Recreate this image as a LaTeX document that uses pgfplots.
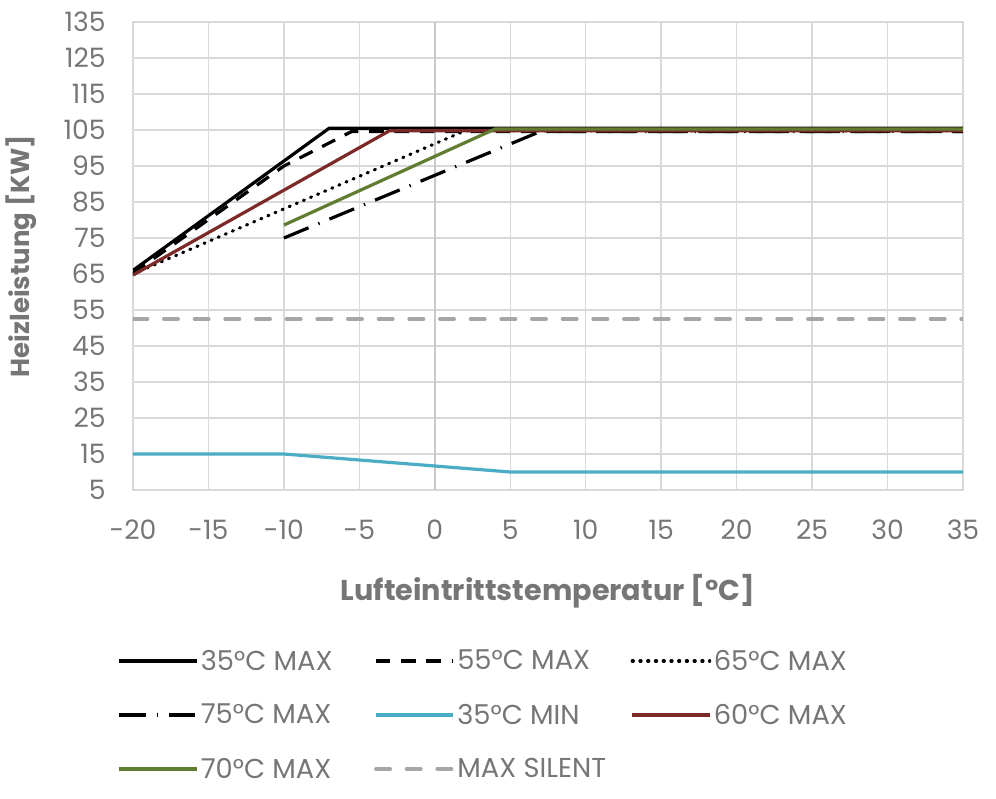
\documentclass[border=0pt]{standalone}
\usepackage{pgfplots}
\pgfplotsset{compat=1.18}
\usepackage{fontspec}
\setmainfont{Poppins}
\definecolor{txt}{RGB}{118,118,118}
\definecolor{gridc}{RGB}{217,217,217}
\definecolor{zeroc}{RGB}{200,200,200}
\definecolor{blu}{RGB}{75,172,198}
\definecolor{redd}{RGB}{124,42,40}
\definecolor{grn}{RGB}{96,125,49}
\definecolor{silent}{RGB}{166,166,166}
\begin{document}
\begin{tikzpicture}
\begin{axis}[
  scale only axis, width=622.5pt, height=351pt,
  xmin=-20, xmax=35, ymin=5, ymax=135,
  xtick={-20,-15,...,35}, ytick={5,15,...,135},
  xticklabels={-20,-15,-10,-5,0,5,10,15,20,25,30,35},
  grid=major, grid style={gridc, line width=1.1pt},
  axis line style={gridc, line width=1.1pt},
  major tick length=0pt,
  tick label style={font=\fontsize{20}{23}\selectfont, text=txt},
  /pgf/number format/assume math mode=true,
  xticklabel style={yshift=-19pt},
  yticklabel style={xshift=-17pt},
  extra x ticks={0}, extra x tick labels={},
  extra x tick style={grid style={zeroc, line width=1.4pt}},
  xlabel={\bfseries Lufteintrittstemperatur [°C]},
  ylabel={\bfseries Heizleistung [KW]},
  xlabel style={font=\fontsize{21.5}{24}\selectfont, text=txt, yshift=-19pt},
  ylabel style={font=\fontsize{19.5}{22}\selectfont, text=txt, yshift=13pt},
  legend columns=3,
  legend style={at={(-0.0237,-0.3015)}, anchor=north west, draw=none, fill=none,
    font=\fontsize{20.5}{23}\selectfont, text=txt,
    nodes={inner xsep=2pt, inner ysep=0pt, minimum height=40.5pt},
    row sep=0pt, column sep=0pt},
  legend cell align=left,
  legend image code/.code={\draw[#1] (0pt,0pt) -- (58pt,0pt);},
  every axis plot/.append style={line width=2.4pt, line join=round},
]
\addplot[black] coordinates {(-20,66) (-7,105.5) (35,105.5)};
\addlegendentry{\makebox[128pt][l]{35°C MAX}}
\addplot[black, dash pattern=on 11pt off 8pt] coordinates {(-20,65.2) (-10,95) (-5.5,104.6) (35,104.6)};
\addlegendentry{\makebox[128pt][l]{55°C MAX}}
\addplot[black, line width=2.4pt, line cap=round, dash pattern=on 0.8pt off 5pt] coordinates {(-20,65) (2,104.8) (35,104.8)};
\addlegendentry{\makebox[128pt][l]{65°C MAX}}
\addplot[black, dash pattern=on 20pt off 8pt on 1pt off 8pt] coordinates {(-10,75) (7,104.6) (35,104.6)};
\addlegendentry{\makebox[128pt][l]{75°C MAX}}
\addplot[blu] coordinates {(-20,15) (-10,15) (5,10) (35,10)};
\addlegendentry{\makebox[128pt][l]{35°C MIN}}
\addplot[redd] coordinates {(-20,64.7) (-3,104.8) (35,104.8)};
\addlegendentry{\makebox[128pt][l]{60°C MAX}}
\addplot[grn] coordinates {(-10,78.6) (4,105.3) (35,105.3)};
\addlegendentry{\makebox[128pt][l]{70°C MAX}}
\addplot[silent, line cap=round, dash pattern=on 11pt off 12pt] coordinates {(-20,52.5) (35,52.5)};
\addlegendentry{\makebox[128pt][l]{MAX SILENT}}
\end{axis}
\path[use as bounding box] (-99.75pt,-216.75pt) rectangle (647.25pt,367.5pt);
\end{tikzpicture}
\end{document}
